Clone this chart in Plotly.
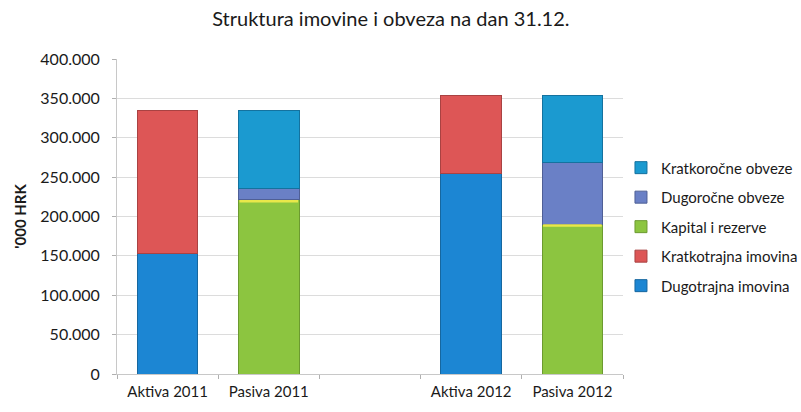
import plotly.graph_objects as go

# Categories on the x axis (the blank one separates the two years)
categories = ["Aktiva 2011", "Pasiva 2011", " ", "Aktiva 2012", "Pasiva 2012"]

# Values in '000 HRK
dugotrajna_imovina = [153000, None, None, 254000, None]
kratkotrajna_imovina = [182000, None, None, 100000, None]
kapital_i_rezerve = [None, 221000, None, None, 190000]
dugorocne_obveze = [None, 15000, None, None, 78000]
kratkorocne_obveze = [None, 99000, None, None, 86000]

series = [
    ("Dugotrajna imovina", dugotrajna_imovina, "#1c86d3", "#16679f"),
    ("Kratkotrajna imovina", kratkotrajna_imovina, "#dd5656", "#a94242"),
    ("Kapital i rezerve", kapital_i_rezerve, "#8cc540", "#6c9a30"),
    ("Dugoročne obveze", dugorocne_obveze, "#6a80c6", "#4f5f96"),
    ("Kratkoročne obveze", kratkorocne_obveze, "#1b9ad0", "#14729f"),
]

font_family = "Lato, 'Open Sans', sans-serif"

fig = go.Figure()
n = len(series)
for i, (name, vals, color, edge) in enumerate(series):
    fig.add_trace(go.Bar(
        x=categories,
        y=vals,
        name=name,
        legendgroup=f"g{i}",
        legendrank=n - i,  # top of the stack listed first
        marker=dict(color=color, line=dict(color=edge, width=1)),
        width=0.6,
    ))

# thin yellow highlight along the top of the capital segment
shapes = []
for idx, v in enumerate(kapital_i_rezerve):
    if v is not None:
        shapes.append(dict(
            type="line", xref="x", yref="y",
            x0=idx - 0.29, x1=idx + 0.29, y0=v - 1500, y1=v - 1500,
            line=dict(color="#e8e84a", width=2.5),
        ))

fig.update_layout(
    width=801,
    height=412,
    barmode="stack",
    separators=",.",
    paper_bgcolor="white",
    plot_bgcolor="white",
    margin=dict(l=117, r=178, t=59, b=38, autoexpand=False),
    font=dict(family=font_family, size=15, color="#1a1a1a"),
    title=dict(
        text="Struktura imovine i obveza na dan 31.12.",
        x=0.488, xanchor="center", y=0.955, yanchor="middle",
        font=dict(family=font_family, size=20, color="#1a1a1a"),
    ),
    legend=dict(
        x=0.996, xanchor="left", y=0.467, yanchor="middle",
        traceorder="grouped",
        tracegroupgap=7,
        font=dict(family=font_family, size=15, color="#1a1a1a"),
        itemwidth=30,
        bgcolor="rgba(0,0,0,0)",
    ),
    shapes=shapes,
    xaxis=dict(
        type="category",
        categoryorder="array",
        categoryarray=categories,
        showline=True, linecolor="#c8c8c8", linewidth=1,
        ticks="outside", tickson="boundaries", ticklen=4, tickcolor="#b0b0b0",
        showgrid=False,
        ticklabelstandoff=4,
        tickfont=dict(size=15, color="#1a1a1a"),
    ),
    yaxis=dict(
        range=[0, 400000],
        dtick=50000,
        tickformat=",.0f",
        showline=True, linecolor="#c8c8c8", linewidth=1,
        ticks="outside", ticklen=4, tickcolor="#b0b0b0",
        gridcolor="#dcdcdc", gridwidth=1,
        zeroline=False,
        ticklabelstandoff=9,
        tickfont=dict(size=16, color="#1a1a1a"),
        title=dict(text="<b>'000 HRK</b>", font=dict(size=15, color="#1a1a1a"), standoff=10),
    ),
)

fig.write_html("out.html")
